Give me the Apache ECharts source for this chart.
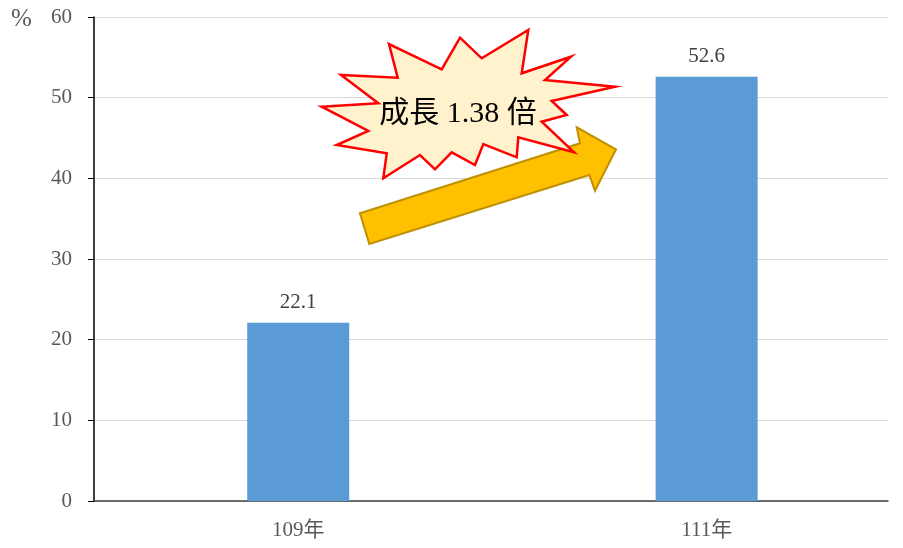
<!DOCTYPE html>
<html>
<head>
<meta charset="utf-8">
<script src="https://cdn.jsdelivr.net/npm/echarts@6/dist/echarts.min.js"></script>
<style>
html,body{margin:0;padding:0;background:#fff;}
#chart{width:903px;height:548px;}
</style>
</head>
<body>
<div id="chart"></div>
<script>
// Data
const categories = ['109年', '111年'];
const values = [22.1, 52.6];
const yTicks = [0, 10, 20, 30, 40, 50, 60];
const unitLabel = '%';
const calloutText = '成長 1.38 倍';

const FONT = '"Liberation Serif", "Times New Roman", "Noto Sans CJK TC", serif';

const chart = echarts.init(document.getElementById('chart'));

// Decorative callout shapes (annotation, not data)
const burst = [[321.7,106.7],[378.3,103.3],[341,75],[397.7,77.7],[389,44],[441.7,69.3],[460,37.7],[481.7,58.3],[528.3,30],[521.7,73.3],[571,56.7],[545,80],[615,86.7],[551.7,101],[566.7,115],[541.7,121.7],[574,152.3],[518.3,137.3],[516.7,157.3],[483.3,144],[475,165],[451.7,152.3],[435,169.3],[420,155],[383.3,178.3],[386.7,153.3],[336.7,145],[368.3,131]];
const arrow = [[360,213.3],[580,143.3],[576.7,127.3],[616,149.3],[595,190.7],[589.3,175],[369.3,244]];

chart.setOption({
  animation: false,
  grid: { left: 94, right: 15, top: 17, bottom: 47 },
  xAxis: {
    type: 'value',
    min: -0.5,
    max: 1.444,
    splitLine: { show: false },
    axisLine: { show: true, onZero: false, lineStyle: { color: '#404040', width: 1.5 } },
    axisTick: { show: false },
    axisLabel: {
      customValues: [0, 1],
      formatter: v => categories[Math.round(v)] || '',
      fontFamily: FONT, fontSize: 21, color: '#595959', margin: 19
    }
  },
  yAxis: {
    type: 'value',
    min: yTicks[0], max: yTicks[yTicks.length - 1], interval: 10,
    axisLine: { show: true, onZero: false, lineStyle: { color: '#000', width: 1.5 } },
    axisTick: { show: true, inside: false, length: 6, lineStyle: { color: '#000' } },
    splitLine: { show: true, lineStyle: { color: '#d9d9d9', width: 1 } },
    axisLabel: { fontFamily: FONT, fontSize: 21, color: '#595959', margin: 22 }
  },
  series: [{
    type: 'bar',
    data: values.map((v, i) => [i, v]),
    barWidth: 102,
    itemStyle: { color: '#5b9bd5' },
    label: {
      show: true, position: 'top', distance: 10,
      fontFamily: FONT, fontSize: 21, color: '#404040',
      formatter: p => p.value[1].toFixed(1)
    }
  }],
  graphic: [
    {
      type: 'text', left: 11, top: 7, z: 10,
      style: { text: unitLabel, font: '25px ' + FONT, fill: '#595959' }
    },
    {
      type: 'polygon', z: 20,
      shape: { points: arrow },
      style: { fill: '#ffc000', stroke: '#bf9000', lineWidth: 2 }
    },
    {
      type: 'polygon', z: 30,
      shape: { points: burst },
      style: { fill: '#fff2cc', stroke: '#ff0000', lineWidth: 2.5, lineJoin: 'miter' }
    },
    {
      type: 'text', z: 40, x: 458, y: 114,
      style: { text: calloutText, font: '30px ' + FONT, fill: '#000', align: 'center', verticalAlign: 'middle' }
    }
  ]
});
</script>
</body>
</html>
